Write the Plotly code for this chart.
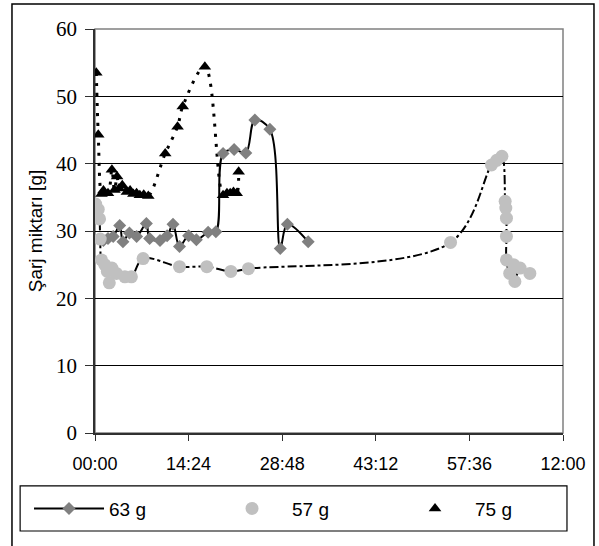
import plotly.graph_objects as go

# time in minutes, charge in grams
t_63 = [1.3, 2.0, 2.8, 3.8, 4.3, 5.3, 6.4, 7.9, 8.4, 10.0, 11.1, 12.0, 13.0, 14.4, 15.6, 17.4, 18.6,
        19.7, 21.4, 23.2, 24.6, 26.9, 28.5, 29.6, 32.8]
s_63 = [28.6, 28.9, 29.2, 30.8, 28.4, 29.7, 29.2, 31.1, 28.9, 28.6, 29.3, 31.0, 27.7, 29.3, 28.7, 29.8, 29.9,
        41.5, 42.1, 41.6, 46.5, 45.1, 27.4, 31.0, 28.4]

t_57 = [0.1, 0.5, 0.7, 0.8, 1.0, 1.5, 1.9, 2.2, 2.6, 3.3, 4.6, 5.6, 7.4, 13.0, 17.2, 20.9, 23.6,
        54.7, 61.0, 61.8, 62.6, 63.1, 63.2, 63.3, 63.3, 63.3, 63.8, 64.4, 64.6, 65.4, 66.9]
s_57 = [34.0, 33.2, 31.8, 28.8, 25.7, 25.0, 24.0, 22.3, 24.5, 23.7, 23.2, 23.2, 25.9, 24.7, 24.7, 24.0, 24.4,
        28.3, 39.8, 40.5, 41.1, 34.4, 33.4, 31.9, 29.2, 25.7, 23.7, 25.0, 22.5, 24.5, 23.7]

t_75 = [0.2, 0.5, 1.0, 1.3, 2.0, 2.6, 3.0, 3.4, 3.7, 4.2, 4.9, 5.4, 5.9, 6.4, 6.9, 7.5, 8.2,
        10.8, 12.7, 13.5, 16.9, 19.7, 20.3, 20.8, 21.3, 21.8, 22.1]
s_75 = [53.5, 44.3, 35.5, 36.0, 35.6, 39.1, 36.1, 38.1, 36.3, 36.8, 35.8, 36.0, 35.5, 35.6, 35.3, 35.4, 35.2,
        41.5, 45.5, 48.5, 54.4, 35.3, 35.6, 35.6, 35.8, 35.6, 38.8]

tick_vals = [0, 14.4, 28.8, 43.2, 57.6, 72]
tick_text = ['00:00', '14:24', '28:48', '43:12', '57:36', '12:00']

fig = go.Figure()

# smoothed connector lines (not in legend)
fig.add_trace(go.Scatter(x=t_57, y=s_57, mode='lines', line=dict(color='black', width=2, dash='dashdot', shape='spline'),
                         showlegend=False, hoverinfo='skip'))
fig.add_trace(go.Scatter(x=t_75, y=s_75, mode='lines', line=dict(color='black', width=3, dash='3px,7px', shape='spline'),
                         showlegend=False, hoverinfo='skip'))

fig.add_trace(go.Scatter(
    x=t_63, y=s_63, mode='lines+markers', name='63 g',
    line=dict(color='black', width=2, shape='spline'),
    marker=dict(symbol='diamond', size=10, color='#808080')
))
fig.add_trace(go.Scatter(
    x=t_57, y=s_57, mode='markers', name='57 g',
    marker=dict(symbol='circle', size=13, color='#c0c0c0')
))
fig.add_trace(go.Scatter(
    x=t_75, y=s_75, mode='markers', name='75 g',
    marker=dict(symbol='triangle-up', size=11, color='black')
))

# plot area border, legend box and outer frame
fig.add_shape(type='rect', xref='paper', yref='paper', x0=0, x1=1, y0=0, y1=1,
              line=dict(color='#808080', width=1.5), layer='below')
fig.add_shape(type='rect', xref='paper', yref='paper', x0=-0.160, x1=1.0085, y0=-0.2426, y1=-0.131,
              line=dict(color='black', width=1.2))
fig.add_shape(type='rect', xref='paper', yref='paper', x0=-0.1774, x1=1.0662, y0=-0.33, y1=1.0620,
              line=dict(color='black', width=1.5))

fig.update_layout(
    width=599, height=546,
    margin=dict(l=95, r=36, t=29, b=113, autoexpand=False),
    plot_bgcolor='white', paper_bgcolor='white',
    font=dict(family='Liberation Sans, Arial', size=18, color='black'),
    showlegend=True,
    legend=dict(
        orientation='h', x=-0.141, y=-0.187, xanchor='left', yanchor='middle',
        borderwidth=0, bgcolor='rgba(0,0,0,0)',
        entrywidth=98, itemwidth=70,
        font=dict(family='Liberation Sans, Arial', size=19)
    )
)

fig.update_xaxes(
    range=[0, 72], tickmode='array', tickvals=tick_vals, ticktext=tick_text,
    showgrid=False, zeroline=False,
    showline=True, linecolor='#303030', linewidth=1.5,
    ticks='outside', ticklen=6, tickcolor='#303030', ticklabelstandoff=8,
    tickfont=dict(family='Liberation Sans, Arial', size=18)
)
fig.update_yaxes(
    range=[0, 60], dtick=10,
    showgrid=True, gridcolor='black', gridwidth=1, zeroline=False,
    showline=True, linecolor='#303030', linewidth=1.5,
    ticks='outside', ticklen=8, tickcolor='#303030', ticklabelstandoff=4,
    tickfont=dict(family='Liberation Serif, Times New Roman', size=21),
    title=dict(text='Şarj miktarı [g]', font=dict(family='Liberation Sans, Arial', size=19), standoff=8)
)

# drop the default page margin and scrollbars so the figure sits at the window corner
fig.write_html(
    "out.html",
    config={'displayModeBar': False},
    post_script="document.body.style.margin='0';document.body.style.overflow='hidden';"
)
